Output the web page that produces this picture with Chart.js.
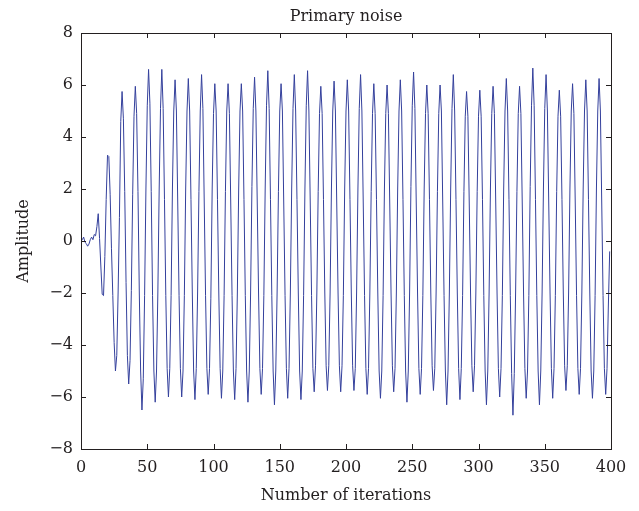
<!DOCTYPE html>
<html>
<head>
<meta charset="utf-8">
<title>Primary noise</title>
<script src="https://cdn.jsdelivr.net/npm/chart.js@4.4.0/dist/chart.umd.min.js"></script>
<style>
    html, body { margin: 0; padding: 0; background: #fff; }
    #wrap { width: 639px; height: 511px; position: relative; }
</style>
</head>
<body>
<div id="wrap"><canvas id="noiseChart"></canvas></div>
<script>
// tick labels
const xTicks = [0, 50, 100, 150, 200, 250, 300, 350, 400];
const yTicks = [-8, -6, -4, -2, 0, 2, 4, 6, 8];

// amplitude, one value per iteration (0..399)
const amplitude = [
    0.10, 0.05, 0.15, -0.05, -0.10, -0.20, -0.12, 0.05, 0.15, 0.05,
    0.25, 0.20, 0.55, 1.05, 0.10, -1.00, -2.05, -2.10, -0.60, 1.60,
    3.30, 3.25, 1.80, -0.30, -2.10, -3.90, -5.00, -4.40, -2.00, 0.90,
    4.60, 5.75, 4.70, 1.90, -1.60, -4.40, -5.50, -4.60, -1.90, 1.80,
    4.80, 5.95, 4.90, 1.90, -2.00, -5.00, -6.50, -5.30, -2.10, 2.00,
    5.20, 6.60, 5.30, 1.90, -2.10, -5.00, -6.20, -5.00, -2.00, 2.00,
    5.10, 6.60, 5.10, 1.60, -2.10, -4.90, -6.00, -4.90, -2.10, 2.00,
    5.00, 6.20, 5.00, 1.50, -2.10, -4.90, -6.00, -5.00, -2.10, 2.00,
    5.00, 6.25, 5.00, 1.60, -2.00, -5.00, -6.10, -4.90, -2.00, 1.90,
    5.00, 6.40, 5.10, 1.50, -2.10, -4.90, -5.90, -4.90, -2.20, 2.00,
    4.90, 6.05, 5.00, 1.60, -2.00, -4.90, -6.05, -5.00, -2.10, 1.90,
    5.00, 6.05, 4.90, 1.50, -2.10, -5.00, -6.10, -4.90, -2.00, 2.00,
    5.00, 6.05, 5.00, 1.60, -2.10, -5.00, -6.20, -5.00, -2.00, 2.10,
    5.10, 6.30, 5.00, 1.50, -2.00, -4.90, -5.90, -4.90, -2.10, 2.00,
    5.20, 6.55, 5.10, 1.60, -2.10, -5.00, -6.30, -5.00, -2.00, 1.90,
    5.00, 6.05, 5.00, 1.50, -2.10, -4.90, -6.05, -4.90, -2.00, 2.00,
    5.10, 6.40, 5.00, 1.60, -2.00, -5.00, -6.10, -5.00, -2.10, 2.00,
    5.20, 6.55, 5.00, 1.50, -2.10, -4.90, -5.80, -4.80, -2.00, 1.90,
    4.90, 5.95, 4.90, 1.60, -2.00, -4.80, -5.75, -4.80, -2.00, 2.00,
    5.00, 6.15, 5.00, 1.50, -2.00, -4.80, -5.80, -4.80, -2.10, 2.00,
    5.00, 6.20, 5.00, 1.60, -2.00, -4.80, -5.75, -4.90, -2.00, 2.00,
    5.10, 6.40, 5.00, 1.50, -2.10, -4.90, -5.90, -4.90, -2.00, 1.90,
    4.90, 6.05, 4.90, 1.60, -2.00, -5.00, -6.05, -5.00, -2.10, 2.00,
    4.90, 6.00, 4.90, 1.50, -2.00, -4.80, -5.80, -4.90, -2.00, 2.00,
    5.00, 6.20, 5.00, 1.60, -2.10, -5.00, -6.20, -5.00, -2.00, 2.10,
    5.20, 6.50, 5.10, 1.50, -2.00, -4.90, -5.90, -4.90, -2.10, 2.00,
    4.90, 6.00, 4.90, 1.60, -2.00, -4.80, -5.75, -4.90, -2.00, 1.90,
    4.90, 6.00, 5.00, 1.50, -2.10, -5.00, -6.30, -5.00, -2.00, 2.00,
    5.10, 6.40, 5.00, 1.60, -2.00, -4.90, -6.10, -4.90, -2.10, 1.90,
    4.80, 5.75, 4.80, 1.50, -2.00, -4.80, -5.80, -4.80, -2.00, 1.90,
    4.80, 5.80, 4.80, 1.60, -2.10, -5.00, -6.30, -5.00, -2.00, 2.00,
    4.90, 5.95, 4.90, 1.50, -2.00, -4.90, -6.00, -4.90, -2.10, 2.00,
    5.00, 6.25, 5.00, 1.60, -2.10, -5.10, -6.70, -5.10, -2.00, 1.90,
    4.90, 5.95, 4.90, 1.50, -2.00, -4.90, -6.05, -5.00, -2.10, 2.10,
    5.20, 6.65, 5.20, 1.60, -2.10, -5.00, -6.30, -5.00, -2.00, 2.00,
    5.10, 6.40, 5.00, 1.50, -2.00, -4.90, -6.05, -4.90, -2.10, 1.90,
    4.80, 5.80, 4.80, 1.60, -2.00, -4.80, -5.75, -4.80, -2.00, 2.00,
    5.00, 6.05, 4.90, 1.50, -2.10, -4.90, -5.90, -4.90, -2.00, 2.00,
    5.00, 6.20, 5.00, 1.60, -2.00, -5.00, -6.05, -5.00, -2.10, 2.00,
    5.00, 6.25, 5.00, 1.50, -2.10, -4.90, -5.90, -4.90, -2.50, -0.40
];

const serif = "'DejaVu Serif', 'Liberation Serif', serif";
const ink = "#231f20";

// matlab style box with inward ticks on all four sides
const boxTicks = {
    id: "boxTicks",
    afterDatasetsDraw(chart) {
        const { ctx, chartArea: a, scales } = chart;
        const len = 5;
        ctx.save();
        ctx.strokeStyle = ink;
        ctx.lineWidth = 1;
        ctx.beginPath();
        xTicks.forEach(v => {
            const px = Math.round(scales.x.getPixelForValue(v)) + 0.5;
            ctx.moveTo(px, a.bottom);
            ctx.lineTo(px, a.bottom - len);
            ctx.moveTo(px, a.top);
            ctx.lineTo(px, a.top + len);
        });
        yTicks.forEach(v => {
            const py = Math.round(scales.y.getPixelForValue(v)) + 0.5;
            ctx.moveTo(a.left, py);
            ctx.lineTo(a.left + len, py);
            ctx.moveTo(a.right, py);
            ctx.lineTo(a.right - len, py);
        });
        ctx.stroke();
        ctx.strokeRect(Math.round(a.left) + 0.5, Math.round(a.top) + 0.5,
            Math.round(a.right - a.left), Math.round(a.bottom - a.top));
        ctx.restore();
    }
};

const minus = v => (v < 0 ? "\u2212" + Math.abs(v) : String(v));

new Chart(document.getElementById("noiseChart").getContext("2d"), {
    type: "line",
    data: {
        datasets: [{
            label: "Primary noise",
            data: amplitude.map((v, i) => ({ x: i, y: v })),
            borderColor: "#34409c",
            borderWidth: 1,
            pointRadius: 0,
            tension: 0,
            fill: false
        }]
    },
    options: {
        responsive: true,
        maintainAspectRatio: false,
        animation: false,
        layout: { padding: { left: 0, right: 28, top: 0, bottom: 0 } },
        plugins: {
            legend: { display: false },
            tooltip: { enabled: false },
            title: {
                display: true,
                text: "Primary noise",
                fullSize: false,
                color: ink,
                font: { family: serif, size: 16, weight: "normal", lineHeight: 1.2 },
                padding: { top: 7, bottom: 6.8 }
            }
        },
        scales: {
            x: {
                type: "linear",
                min: 0,
                max: 400,
                afterBuildTicks: s => { s.ticks = xTicks.map(v => ({ value: v })); },
                afterFit: s => { s.height = 62; },
                grid: { display: false, drawTicks: false },
                border: { display: false },
                ticks: {
                    color: ink,
                    padding: 9,
                    maxRotation: 0,
                    font: { family: serif, size: 16 },
                    callback: v => minus(v)
                },
                title: {
                    display: true,
                    text: "Number of iterations",
                    color: ink,
                    font: { family: serif, size: 16, lineHeight: 1.2 },
                    padding: { top: 0, bottom: 5.4 }
                }
            },
            y: {
                type: "linear",
                min: -8,
                max: 8,
                afterBuildTicks: s => { s.ticks = yTicks.map(v => ({ value: v })); },
                afterFit: s => { s.width = 81; },
                grid: { display: false, drawTicks: false },
                border: { display: false },
                ticks: {
                    color: ink,
                    padding: 8,
                    font: { family: serif, size: 16 },
                    callback: v => minus(v)
                },
                title: {
                    display: true,
                    text: "Amplitude",
                    color: ink,
                    font: { family: serif, size: 16, lineHeight: 1.2 },
                    padding: { top: 14.4, bottom: 0 }
                }
            }
        }
    },
    plugins: [boxTicks]
});
</script>
</body>
</html>
